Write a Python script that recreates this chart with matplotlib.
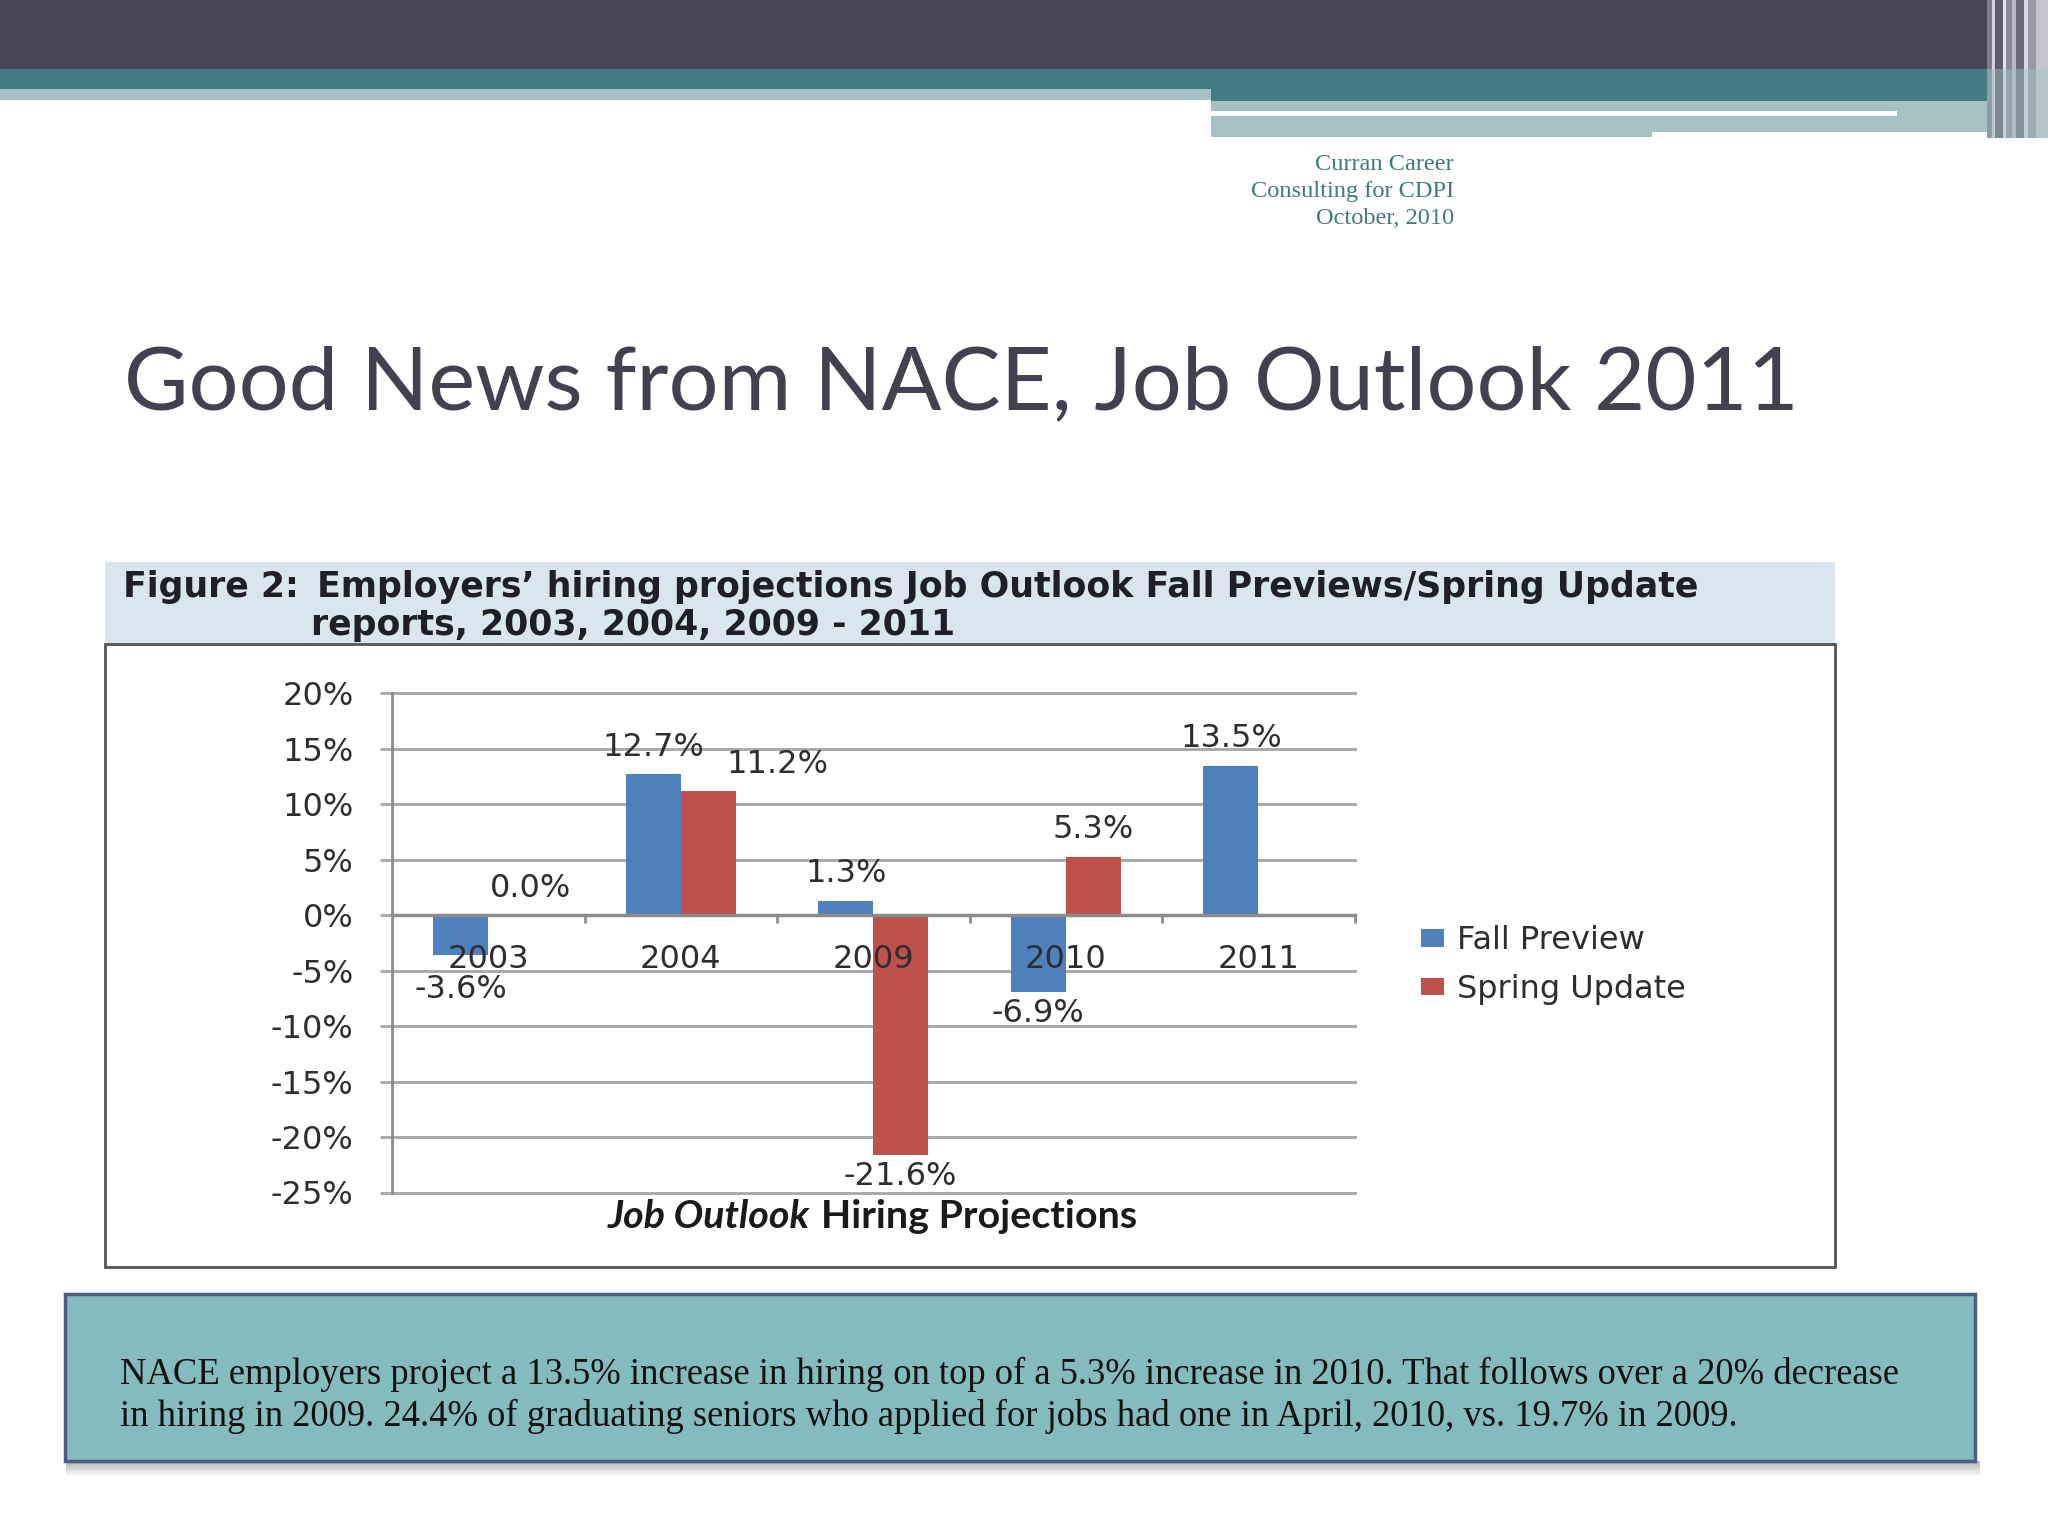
import matplotlib
matplotlib.use('Agg')
import matplotlib.pyplot as plt
from matplotlib.patches import Rectangle, Patch
import numpy as np

# ---------------- data ----------------
categories = ['2003', '2004', '2009', '2010', '2011']
fall_preview = [-3.6, 12.7, 1.3, -6.9, 13.5]
spring_update = [0.0, 11.2, -21.6, 5.3, np.nan]
y_ticks = [20, 15, 10, 5, 0, -5, -10, -15, -20, -25]
series_names = ['Fall Preview', 'Spring Update']

slide_title = 'Good News from NACE, Job Outlook 2011'
credit_lines = ['Curran Career', 'Consulting for CDPI', 'October, 2010']
fig_label = 'Figure 2:'
header_line1 = 'Employers\u2019 hiring projections Job Outlook Fall Previews/Spring Update'
header_line2 = 'reports, 2003, 2004, 2009 - 2011'
xtitle_italic = 'Job Outlook'
xtitle_rest = 'Hiring Projections'
note_lines = [
    'NACE employers project a 13.5% increase in hiring on top of a 5.3% increase in 2010. That follows over a 20% decrease',
    'in hiring in 2009. 24.4% of graduating seniors who applied for jobs had one in April, 2010, vs. 19.7% in 2009.',
]

BLUE = '#4f81bd'
RED = '#c0504d'
TXT = '#2e2e2e'
FS = 23

W, H = 2048, 1536
fig = plt.figure(figsize=(W / 100, H / 100), dpi=100)
fig.patch.set_facecolor('white')
bg = fig.add_axes([0, 0, 1, 1])
bg.set_xlim(0, W)
bg.set_ylim(H, 0)
bg.axis('off')
renderer = fig.canvas.get_renderer()


def rect(x0, y0, x1, y1, color, z=1, **kw):
    bg.add_patch(Rectangle((x0, y0), x1 - x0, y1 - y0, facecolor=color,
                           edgecolor=kw.pop('edgecolor', 'none'), zorder=z, **kw))


def fit(t, width):
    bb = t.get_window_extent(renderer)
    t.set_fontsize(t.get_fontsize() * width / bb.width)
    return t.get_fontsize()


# ---------------- top decoration ----------------
rect(0, 0, W, 69, '#454557')
rect(0, 69, 1211, 89, '#467c83')
rect(0, 89, 1211, 100, '#a5c1c4')
rect(1211, 69, 1990, 101, '#467c83')
rect(1211, 101, 2010, 137, '#a5c1c4')
rect(1211, 111, 1897, 116, 'white', z=2)
rect(1652, 132, 2010, 139, 'white', z=2)
stripes = [(1987, 1992, '#7d7d8e'), (1992, 1995, '#d0d1d9'), (1995, 2003, '#5d5d70'),
           (2003, 2006, '#e3e3e8'), (2006, 2012, '#8a8a9a'), (2012, 2016, '#b8b9c4'),
           (2016, 2024, '#6a6a7c'), (2024, 2028, '#d8d9e0'), (2028, 2036, '#9898a8'),
           (2036, 2048, '#c4c5cf')]
for x0, x1, c in stripes:
    rect(x0, 0, x1, 138, c, z=3)
rect(1987, 69, 2048, 138, '#a5c1c4', z=4, alpha=0.45)

# credit text
tc = bg.text(1454, 191, credit_lines[1], ha='right', va='center', fontsize=15,
             family='Liberation Serif', color='#3e7b79')
fs = fit(tc, 204)
for yy, s in [(164, credit_lines[0]), (219, credit_lines[2])]:
    bg.text(1454, yy, s, ha='right', va='center', fontsize=fs,
            family='Liberation Serif', color='#3e7b79')

# title
tt = bg.text(124, 409, slide_title, ha='left', va='baseline', fontsize=60,
             family='Lato', color='#41414f')
fit(tt, 1676)

# ---------------- chart frame ----------------
rect(104.5, 561.6, 1835, 644, '#d9e5ef', z=1)
bg.add_patch(Rectangle((104.5, 644), 1835 - 104.5, 1267 - 644, facecolor='white',
                       edgecolor='#555555', lw=2, zorder=1))

th = bg.text(317, 597, header_line1, ha='left', va='baseline', fontsize=20,
             family='DejaVu Sans', fontweight='bold', color='#1f1f2a')
hfs = fit(th, 1384)
bg.text(123, 597, fig_label, ha='left', va='baseline', fontsize=hfs,
        family='DejaVu Sans', fontweight='bold', color='#1f1f2a')
bg.text(311, 635, header_line2, ha='left', va='baseline', fontsize=hfs,
        family='DejaVu Sans', fontweight='bold', color='#1f1f2a')

# ---------------- chart axes ----------------
ax = fig.add_axes([392 / W, 1 - 1192.5 / H, (1354.5 - 392) / W, (1192.5 - 693.5) / H])
ax.patch.set_alpha(0)
ax.set_xlim(-0.5, len(categories) - 0.5)
ax.set_ylim(-25, 20)
x = np.arange(len(categories))
bw = 0.285
ax.bar(x - bw / 2, fall_preview, bw, color=BLUE, zorder=3)
ax.bar(x + bw / 2, spring_update, bw, color=RED, zorder=3)

for s in ['top', 'right']:
    ax.spines[s].set_visible(False)
ax.spines['left'].set_color('#8c8c8c')
ax.spines['left'].set_linewidth(2)
ax.spines['bottom'].set_position(('data', 0))
ax.spines['bottom'].set_color('#8c8c8c')
ax.spines['bottom'].set_linewidth(2.5)
ax.spines['bottom'].set_zorder(4)

ax.set_yticks(y_ticks)
ax.set_yticklabels([f'{v}%' for v in y_ticks])
ax.yaxis.grid(True, color='#a6a6a6', lw=2)
for gl in ax.get_ygridlines():
    gl.set_clip_on(False)
ax.set_axisbelow(True)
ax.tick_params(axis='y', length=8.6, width=2, color='#a6a6a6', pad=19,
               labelsize=FS, labelcolor=TXT)
ax.set_xticks(x)
ax.set_xticklabels([])
ax.tick_params(axis='x', which='major', length=0)
ax.set_xticks(list(x + 0.5), minor=True)
ax.tick_params(axis='x', which='minor', length=6, width=2, color='#8c8c8c',
               direction='out')

# category labels drawn above the bars (as in the original)
for xi, c in zip(x, categories):
    ax.annotate(c, xy=(xi, 0), xytext=(0, -44), textcoords='offset pixels',
                ha='center', va='center', fontsize=FS, color=TXT, zorder=7)

# data labels (offsets in pixels)
fall_off = [(0, -34), (0, 27), (0, 27), (0, -22), (0, 27)]
spring_off = [(15, 27), (69, 27), (0, -22), (0, 27), (0, 27)]
for xs, vals, offs in [(x - bw / 2, fall_preview, fall_off),
                       (x + bw / 2, spring_update, spring_off)]:
    for xi, v, (dx, dy) in zip(xs, vals, offs):
        if np.isnan(v):
            continue
        ax.annotate(f'{v:.1f}%', xy=(xi, v), xytext=(dx, dy),
                    textcoords='offset pixels', ha='center', va='center',
                    fontsize=FS, color=TXT, zorder=6)

# x-axis title
t1 = bg.text(0, 1216, xtitle_italic, ha='left', va='center', fontsize=20,
             family='Lato', fontweight='bold', style='italic', color='#1a1a1a')
t2 = bg.text(0, 1216, xtitle_rest, ha='left', va='center', fontsize=20,
             family='Lato', fontweight='bold', color='#1a1a1a')
w1 = t1.get_window_extent(renderer).width
w2 = t2.get_window_extent(renderer).width
gap = 0.28 * 20 * 100 / 72
sc = 529 / (w1 + w2 + gap)
t1.set_fontsize(20 * sc)
t2.set_fontsize(20 * sc)
w1 = t1.get_window_extent(renderer).width
w2 = t2.get_window_extent(renderer).width
gap = 0.28 * 20 * sc * 100 / 72
x0 = 872 - (w1 + gap + w2) / 2
t1.set_x(x0)
t2.set_x(x0 + w1 + gap)

# legend
handles = [Patch(facecolor=BLUE), Patch(facecolor=RED)]
leg = fig.legend(handles, series_names, loc='center left',
                 bbox_to_anchor=(1421 / W, 1 - 965 / H), frameon=False, fontsize=FS,
                 handlelength=0.72, handleheight=0.47, handletextpad=0.4,
                 labelspacing=0.55, borderpad=0, borderaxespad=0)
for t in leg.get_texts():
    t.set_color(TXT)

# ---------------- note box ----------------
for i, a in enumerate([0.55, 0.45, 0.35, 0.25, 0.15, 0.07]):
    rect(66, 1461 + i * 2.5, 1980, 1463.5 + i * 2.5, '#808080', z=1, alpha=a)
bg.add_patch(Rectangle((65, 1294), 1975 - 65, 1461 - 1294, facecolor='#84bbbf',
                       edgecolor='#4d5c82', lw=2.5, zorder=2))
tn = bg.text(120, 1374, note_lines[0], ha='left', va='center', fontsize=24,
             family='Liberation Serif', color='#111111', zorder=3)
nfs = fit(tn, 1783)
bg.text(120, 1416, note_lines[1], ha='left', va='center', fontsize=nfs,
        family='Liberation Serif', color='#111111', zorder=3)

fig.savefig('out.png', dpi=100)
